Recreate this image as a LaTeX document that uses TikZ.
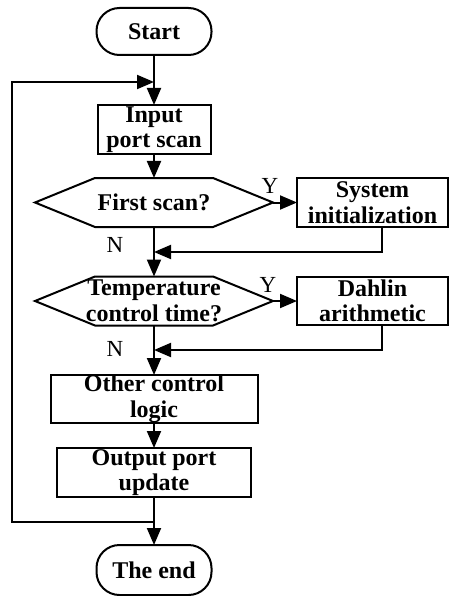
\documentclass[tikz,border=0pt]{standalone}
\usepackage{fontspec}
\setmainfont{Liberation Serif}
\usetikzlibrary{arrows.meta,calc}
\begin{document}
\begin{tikzpicture}[x=1pt,y=-1pt,
  every node/.style={inner sep=0pt,outer sep=0pt},
  txt/.style={font=\fontsize{24}{25.5}\selectfont\bfseries,align=center},
  procbox/.style={txt,draw,line width=2pt,rectangle},
  termbox/.style={txt,draw,line width=2pt,rectangle,rounded corners=23pt},
  hexnode/.style={txt,minimum width=238pt,minimum height=49pt},
  hexline/.style={line width=2pt,line join=miter},
  conn/.style={line width=2pt,-{Triangle[length=17pt,width=14pt]}},
  lbl/.style={font=\fontsize{23}{25}\selectfont}
]
\useasboundingbox (0,0) rectangle (449,596);

\node[termbox,minimum width=115pt,minimum height=47pt] (start) at (154,31.5) {Start};
\node[procbox,minimum width=113pt,minimum height=49pt] (input) at (154,129.5) {Input\\port scan};
\node[hexnode] (first) at (154,202.5) {First scan?};
\node[procbox,minimum width=151pt,minimum height=49pt] (sys) at (372.5,202.5) {System\\initialization};
\node[hexnode] (temp) at (154,301) {Temperature\\control time?};
\node[procbox,minimum width=151pt,minimum height=48pt] (dahlin) at (372.5,301) {Dahlin\\arithmetic};
\node[procbox,minimum width=207pt,minimum height=48pt] (other) at (154,399) {Other control\\logic};
\node[procbox,minimum width=194pt,minimum height=49pt] (output) at (154,472.5) {Output port\\update};
\node[termbox,minimum width=115pt,minimum height=50pt] (end) at (154,570) {The end};

% hexagon outlines
\foreach \h in {first,temp}{
  \draw[hexline] (\h.west) -- ([xshift=60pt]\h.north west) -- ([xshift=-60pt]\h.north east)
    -- (\h.east) -- ([xshift=-60pt]\h.south east) -- ([xshift=60pt]\h.south west) -- cycle;
}

% labels
\node[lbl] (y1) at (270,186) {Y};
\node[lbl] (y2) at (268,285) {Y};
\node[lbl] (n1) at (115,245) {N};
\node[lbl] (n2) at (115,349) {N};

% junction coordinates
\coordinate (j1) at (154,82);
\coordinate (j2) at (154,522);
\coordinate (m1) at (154,252);
\coordinate (m2) at (154,350);
\coordinate (r1) at (382,252);
\coordinate (r2) at (382,350);
\coordinate (lt) at (12,82);
\coordinate (lb) at (12,522);

% connectors
\draw[conn] (start.south) -- (input.north);
\draw[conn] (input.south) -- (first.north);
\draw[conn] (first.east) -- (sys.west);
\draw[conn] (first.south) -- (temp.north);
\draw[conn] (sys.south -| r1) -- (r1) -- (m1);
\draw[conn] (temp.east) -- (dahlin.west);
\draw[conn] (temp.south) -- (other.north);
\draw[conn] (dahlin.south -| r2) -- (r2) -- (m2);
\draw[conn] (other.south) -- (output.north);
\draw[conn] (output.south) -- (end.north);
\draw[conn] (j2) -- (lb) -- (lt) -- (j1);
\end{tikzpicture}
\end{document}
